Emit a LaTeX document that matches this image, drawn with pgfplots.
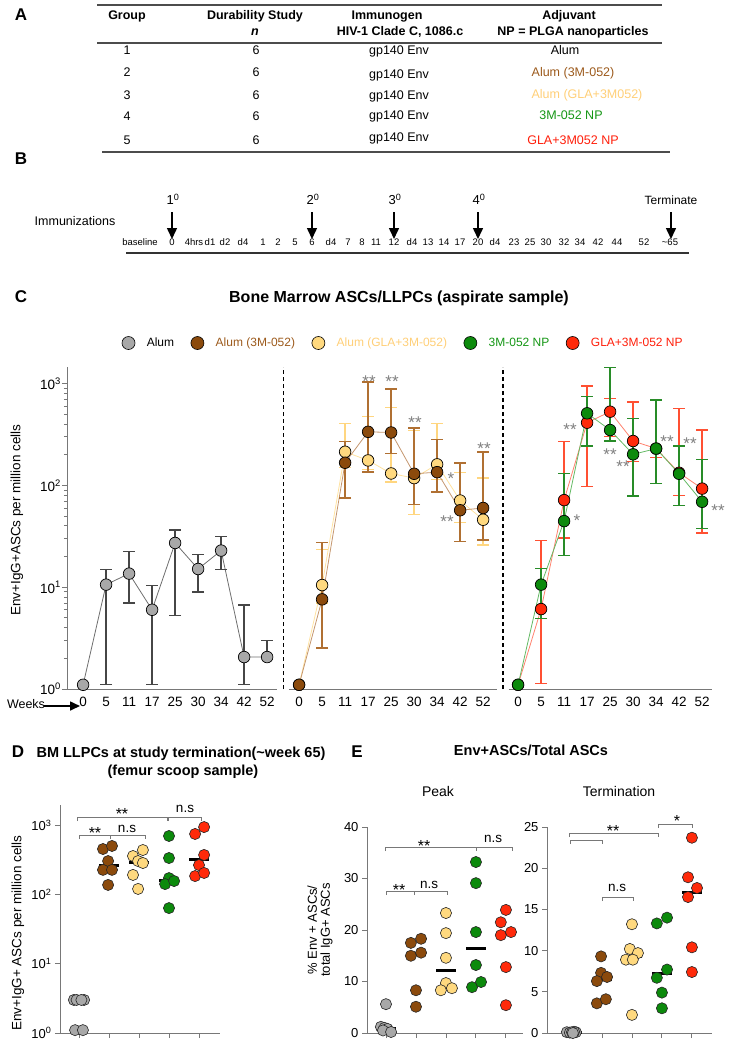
\documentclass[border=0pt]{standalone}
\usepackage{fontspec}
\setmainfont{Liberation Sans}
\usepackage{pgfplots}
\usepackage{pgfplotstable}
\pgfplotsset{compat=1.18}
\usetikzlibrary{arrows.meta}

\definecolor{cgray}{RGB}{168,168,168}
\definecolor{cbrown}{RGB}{139,74,12}
\definecolor{cyellow}{RGB}{255,217,127}
\definecolor{cgreen}{RGB}{12,138,12}
\definecolor{cred}{RGB}{255,42,10}
\definecolor{tbrown}{RGB}{156,90,28}
\definecolor{tyellow}{RGB}{255,207,120}
\definecolor{tgreen}{RGB}{20,150,20}
\definecolor{tred}{RGB}{255,30,10}
\definecolor{axgray}{RGB}{120,120,120}
\definecolor{ebrown}{RGB}{176,112,50}
\definecolor{eyellow}{RGB}{255,214,128}
\definecolor{egreen}{RGB}{40,140,40}
\definecolor{ered}{RGB}{255,80,50}
\definecolor{egray}{RGB}{70,70,70}
\definecolor{lbrown}{RGB}{196,150,110}
\definecolor{lyellow}{RGB}{255,226,160}
\definecolor{lgreen}{RGB}{100,185,100}
\definecolor{lred}{RGB}{255,130,110}
\definecolor{lgray}{RGB}{110,110,110}
\definecolor{stargray}{RGB}{128,128,128}

\newcommand\fsz[1]{\fontsize{#1}{#1}\selectfont}

% ---------- Panel C data (x = category position, y = mean, lo/hi = error bar ends)
\pgfplotstableread{
x y lo hi
0 1.1 1.1 1.1
1 10.6 1.1 14.9
2 13.6 7.0 22.3
3 6.0 1.1 10.4
4 27.2 5.3 36.5
5 15.1 9.0 21.1
6 22.9 14.9 31.7
7 2.06 1.1 6.7
8 2.06 2.06 3.0
}\alumC
\pgfplotstableread{
x y lo hi
9.39 1.1 1.1 1.1
10.39 7.6 2.53 27.3
11.39 167 75 272
12.39 336 135 1040
13.39 331 206 887
14.39 130 65 367
15.39 135 86 282
16.39 57 28 166
17.39 60 29 213
}\brownC
\pgfplotstableread{
x y lo hi
9.39 1.1 1.1 1.1
10.39 10.5 7.0 23.4
11.39 214 150 403
12.39 176 144 472
13.39 131 108 586
14.39 118 52 347
15.39 161 114 405
16.39 71 43 133
17.39 46 26 118
}\yellowC
\pgfplotstableread{
x y lo hi
18.91 1.1 1.1 1.1
19.91 10.6 4.9 15.2
20.91 44.6 20.6 130
21.91 511 244 745
22.91 350 273 1450
23.91 202 78.5 453
24.91 230 104 690
25.91 130 63 244
26.91 69 38 180
}\greenC
\pgfplotstableread{
x y lo hi
18.91 1.1 1.1 1.1
19.91 6.1 1.13 28.8
20.91 71.7 30.5 269
21.91 413 98 948
22.91 530 300 713
23.91 273 171 661
24.91 230 187 690
25.91 133 80 568
26.91 93 34 350
}\redC

\pgfplotsset{
  dot/.style={only marks, mark=*, mark size=5.6pt, mark options={fill=#1, draw=black!85, line width=0.6pt}, forget plot},
  med/.style={black, line width=3pt, forget plot},
  scat/.style={anchor=south west, scale only axis, axis x line*=bottom, axis y line*=left,
    axis line style={axgray, line width=0.9pt}, tick style={axgray, line width=0.9pt},
    tick align=outside, major tick length=5pt, minor tick length=3pt,
    xtick={0,1,2,3,4}, xticklabels={}, clip=false,
    tick label style={font=\fsz{13}}, /pgf/number format/assume math mode=true},
  cser/.style n args={4}{forget plot, color=#2, line width=0.8pt, mark=*, mark size=5.8pt,
    mark options={fill=#1, draw=black, line width=0.7pt, solid},
    error bars/.cd, y dir=both, y explicit, error mark=|,
    error bar style={#3, line width=1.3pt},
    error mark options={#3, line width=1.3pt, mark size=#4}},
}

\begin{document}
\begin{tikzpicture}

% ================= Panel A and B (annotations) =================
\begin{scope}[x=1pt,y=-1pt]
\node[font=\fsz{17}\bfseries, anchor=mid] at (21,18) {A};
\draw[line width=1.1pt, black!70] (97,5) -- (662,5);
\draw[line width=1.1pt, black!70] (97,43) -- (662,43);
\draw[line width=1.1pt, black!70] (102,152) -- (670,152);
\begin{scope}[every node/.style={anchor=mid, font=\fsz{12.5}\bfseries}]
\node at (127,17) {Group};
\node at (255,17) {Durability Study};
\node at (255,33) {\itshape n};
\node at (387,17) {Immunogen};
\node at (400,33) {HIV-1 Clade C, 1086.c};
\node at (569,17) {Adjuvant};
\node at (573,33) {NP = PLGA nanoparticles};
\end{scope}
\begin{scope}[every node/.style={anchor=mid, font=\fsz{12.5}}]
\node at (127,52) {1}; \node at (127,74) {2}; \node at (127,97) {3}; \node at (127,118) {4}; \node at (127,142) {5};
\node at (256,52) {6}; \node at (256,74) {6}; \node at (256,97) {6}; \node at (256,118) {6}; \node at (256,142) {6};
\node at (399,52) {gp140 Env}; \node at (399,76) {gp140 Env}; \node at (399,97) {gp140 Env}; \node at (399,117) {gp140 Env}; \node at (399,139) {gp140 Env};
\node at (565,52) {Alum};
\node[text=tbrown] at (573,74) {Alum (3M-052)};
\node[text=tyellow] at (587,96) {Alum (GLA+3M052)};
\node[text=tgreen] at (571,117) {3M-052 NP};
\node[text=tred] at (573,142) {GLA+3M052 NP};
\end{scope}

% Panel B
\node[font=\fsz{17}\bfseries, anchor=mid] at (21,162) {B};
\node[font=\fsz{12.5}, anchor=mid] at (75,223) {Immunizations};
\foreach \xx/\lab in {172/1, 312/2, 394/3, 478/4}{
  \node[font=\fsz{13}, anchor=mid] at (\xx+1,202) {\lab\textsuperscript{0}};
  \draw[line width=1.5pt, -{Triangle[length=11pt,width=10pt]}] (\xx,212) -- (\xx,239);
}
\node[font=\fsz{12}, anchor=mid] at (671,202) {Terminate};
\draw[line width=1.5pt, -{Triangle[length=11pt,width=10pt]}] (671,212) -- (671,239);
\foreach \xx/\lab in {140/baseline,172/0,194/4hrs,210/d1,225/d2,243/d4,263/1,278/2,295/5,312/6,331/d4,348/7,362/8,376/11,394/12,412/d4,428/13,444/14,460/17,478/20,495/d4,514/23,530/25,546/30,564/32,580/34,598/42,617/44,644/52,670/\textasciitilde 65}{
  \node[font=\fsz{9.5}, anchor=mid, inner sep=0pt] at (\xx,243) {\lab};
}
\draw[line width=1.2pt, black!80] (126,253) -- (689,253);

% Panel C headings
\node[font=\fsz{17}\bfseries, anchor=mid] at (21,300) {C};
\node[font=\fsz{16}\bfseries, anchor=mid] at (399,300) {Bone Marrow ASCs/LLPCs (aspirate sample)};
\node[font=\fsz{13.5}, rotate=90, anchor=center] at (17,520) {Env+IgG+ASCs per million cells};
\node[font=\fsz{12.5}, anchor=mid, inner sep=1pt] at (26,706) {Weeks};
\draw[line width=1.6pt, -{Triangle[length=10pt,width=9pt]}] (44,706) -- (80,706);

% stars panel C
\begin{scope}[every node/.style={font=\fsz{17}, text=stargray, anchor=base, inner sep=0pt, text depth=0pt}]
\node at (369,387) {**}; \node at (392,387) {**}; \node at (415,428) {**};
\node at (451,484) {*}; \node at (447,527) {**}; \node at (484,454) {**};
\node at (570,435) {**}; \node at (577,526) {*}; \node at (610,460) {**};
\node at (623,472) {**}; \node at (667,447) {**}; \node at (690,449) {**};
\node at (718,516) {**};
\end{scope}

% Panel D headings
\node[font=\fsz{17}\bfseries, anchor=mid] at (18,755) {D};
\node[font=\fsz{14.5}\bfseries, anchor=mid] at (181,755) {BM LLPCs at study termination(\textasciitilde week 65)};
\node[font=\fsz{14.5}\bfseries, anchor=mid] at (183,773) {(femur scoop sample)};
\node[font=\fsz{13.5}, rotate=90, anchor=center] at (18,933) {Env+IgG+ ASCs per million cells};
\begin{scope}[axgray, line width=0.9pt]
\draw (79,839) -- (79,835) -- (110,835) -- (110,839);
\draw (110,839) -- (110,835) -- (145,835) -- (145,839);
\draw (77,821) -- (77,817) -- (167,817) -- (167,821);
\draw (168,821) -- (168,817) -- (201,817) -- (201,821);
\end{scope}
\begin{scope}[every node/.style={font=\fsz{16}, anchor=base, inner sep=0pt, text depth=0pt}]
\node at (95,838) {**}; \node at (122,819) {**};
\end{scope}
\begin{scope}[every node/.style={font=\fsz{13.5}, anchor=mid, inner sep=0pt}]
\node at (127,830) {n.s}; \node at (185,810) {n.s};
\end{scope}

% Panel E headings
\node[font=\fsz{17}\bfseries, anchor=mid] at (357,755) {E};
\node[font=\fsz{14.5}\bfseries, anchor=mid] at (531,753) {Env+ASCs/Total ASCs};
\node[font=\fsz{14}, anchor=mid] at (438,794) {Peak};
\node[font=\fsz{14}, anchor=mid] at (619,794) {Termination};
\node[font=\fsz{13}, rotate=90, anchor=center, align=center] at (320,930) {\% Env + ASCs/\\total IgG+ ASCs};
\begin{scope}[axgray, line width=0.9pt]
\draw (386,895) -- (386,891) -- (414,891) -- (414,895);
\draw (414,895) -- (414,891) -- (447,891) -- (447,895);
\draw (385,851) -- (385,847) -- (476,847) -- (476,851);
\draw (476,851) -- (476,847) -- (512,847) -- (512,851);
\draw (570,844) -- (570,840) -- (602,840) -- (602,844);
\draw (569,837) -- (569,833) -- (658,833) -- (658,837);
\draw (658,828) -- (658,824) -- (692,824) -- (692,828);
\draw (602,901) -- (602,897) -- (633,897) -- (633,901);
\end{scope}
\begin{scope}[every node/.style={font=\fsz{16}, anchor=base, inner sep=0pt, text depth=0pt}]
\node at (399,895) {**}; \node at (424,851) {**};
\node at (613,836) {**}; \node at (677,826) {*};
\end{scope}
\begin{scope}[every node/.style={font=\fsz{13.5}, anchor=mid, inner sep=0pt}]
\node at (429,886) {n.s}; \node at (493,840) {n.s}; \node at (617,889) {n.s};
\end{scope}
\end{scope}

% ================= Panel C axis =================
\begin{axis}[
  at={(67pt,-689pt)}, anchor=south west, scale only axis,
  width=645pt, height=322pt,
  ymode=log, ymin=1, ymax=1456, xmin=-0.7, xmax=27.34,
  axis x line*=bottom, axis y line*=left,
  x axis line style={draw=none},
  y axis line style={axgray, line width=0.9pt},
  ytick={1,10,100,1000},
  yticklabels={10\textsuperscript{0},10\textsuperscript{1},10\textsuperscript{2},10\textsuperscript{3}},
  minor ytick={2,3,4,5,6,7,8,9,20,30,40,50,60,70,80,90,200,300,400,500,600,700,800,900},
  tick align=outside, major tick length=5pt, minor tick length=3pt,
  ytick style={axgray, line width=0.9pt},
  xtick={0,1,2,3,4,5,6,7,8,9.39,10.39,11.39,12.39,13.39,14.39,15.39,16.39,17.39,18.91,19.91,20.91,21.91,22.91,23.91,24.91,25.91,26.91},
  xticklabels={0,5,11,17,25,30,34,42,52,0,5,11,17,25,30,34,42,52,0,5,11,17,25,30,34,42,52},
  xtick style={draw=none},
  tick label style={font=\fsz{13.5}},
  yticklabel style={inner sep=1pt},
  clip=false,
  legend columns=5, legend cell align=left,
  legend style={at={(axis description cs:0.0845,1.0745)}, anchor=west, draw=none, fill=none,
    inner sep=0pt, font=\fsz{12},
    /tikz/every odd column/.append style={column sep=9.5pt},
    /tikz/every even column/.append style={column sep=14.5pt}},
]
\addlegendimage{legend image code/.code={\draw[black, line width=0.6pt, fill=cgray] (0pt,0pt) circle (6.5pt);}}
\addlegendentry{Alum}
\addlegendimage{legend image code/.code={\draw[black, line width=0.6pt, fill=cbrown] (0pt,0pt) circle (6.5pt);}}
\addlegendentry{\textcolor{tbrown}{Alum (3M-052)}}
\addlegendimage{legend image code/.code={\draw[black, line width=0.6pt, fill=cyellow] (0pt,0pt) circle (6.5pt);}}
\addlegendentry{\textcolor{tyellow}{Alum (GLA+3M-052)}}
\addlegendimage{legend image code/.code={\draw[black, line width=0.6pt, fill=cgreen] (0pt,0pt) circle (6.5pt);}}
\addlegendentry{\textcolor{tgreen}{3M-052 NP}}
\addlegendimage{legend image code/.code={\draw[black, line width=0.6pt, fill=cred] (0pt,0pt) circle (6.5pt);}}
\addlegendentry{\textcolor{tred}{GLA+3M-052 NP}}

\draw[axgray, line width=0.9pt] (axis cs:-0.7,1) -- (axis cs:8.45,1);
\draw[axgray, line width=0.9pt] (axis cs:8.95,1) -- (axis cs:18.0,1);
\draw[axgray, line width=0.9pt] (axis cs:18.5,1) -- (axis cs:27.34,1);
\draw[black, line width=1.4pt, dash pattern=on 4pt off 3pt] (axis cs:8.70,1) -- (axis cs:8.70,1456);
\draw[black, line width=1.4pt, dash pattern=on 4pt off 3pt] (axis cs:18.26,1) -- (axis cs:18.26,1456);

\addplot[cser={cgray}{lgray}{egray}{6pt}] table[x=x, y=y, y error plus expr=\thisrow{hi}-\thisrow{y}, y error minus expr=\thisrow{y}-\thisrow{lo}] {\alumC};
\addplot[cser={cyellow}{lyellow}{eyellow}{6pt}] table[x=x, y=y, y error plus expr=\thisrow{hi}-\thisrow{y}, y error minus expr=\thisrow{y}-\thisrow{lo}] {\yellowC};
\addplot[cser={cbrown}{lbrown}{ebrown}{6pt}] table[x=x, y=y, y error plus expr=\thisrow{hi}-\thisrow{y}, y error minus expr=\thisrow{y}-\thisrow{lo}] {\brownC};
\addplot[cser={cred}{lred}{ered}{6pt}] table[x=x, y=y, y error plus expr=\thisrow{hi}-\thisrow{y}, y error minus expr=\thisrow{y}-\thisrow{lo}] {\redC};
\addplot[cser={cgreen}{lgreen}{egreen}{6pt}] table[x=x, y=y, y error plus expr=\thisrow{hi}-\thisrow{y}, y error minus expr=\thisrow{y}-\thisrow{lo}] {\greenC};
\end{axis}

% ================= Panel D axis =================
\begin{axis}[scat, at={(60pt,-1033pt)}, width=160pt, height=228pt,
  ymode=log, ymin=1, ymax=1950, xmin=-0.633, xmax=4.7,
  ytick={1,10,100,1000},
  yticklabels={10\textsuperscript{0},10\textsuperscript{1},10\textsuperscript{2},10\textsuperscript{3}},
  minor ytick={2,3,4,5,6,7,8,9,20,30,40,50,60,70,80,90,200,300,400,500,600,700,800,900},
  minor tick style={draw=none},
]
\addplot[dot=cgray] coordinates {(-0.17,3.0) (0.17,3.0) (-0.08,3.0) (0.08,3.0) (-0.13,1.1) (0.13,1.1)};
\addplot[med] coordinates {(-0.33,3.0) (0.33,3.0)};
\addplot[dot=cbrown] coordinates {(0.8,452) (1.1,500) (0.97,303) (0.8,226) (1.1,226) (0.97,137)};
\addplot[med] coordinates {(0.67,265) (1.33,265)};
\addplot[dot=cyellow] coordinates {(1.8,358) (2.13,437) (1.97,303) (2.13,284) (1.8,191) (1.97,120)};
\addplot[med] coordinates {(1.67,290) (2.33,290)};
\addplot[dot=cgreen] coordinates {(3,697) (3,335) (3,172) (2.87,141) (3.17,156) (3,63.5)};
\addplot[med] coordinates {(2.67,160) (3.33,160)};
\addplot[dot=cred] coordinates {(3.87,745) (4.17,937) (4.17,371) (4,265) (3.87,184) (4.17,204)};
\addplot[med] coordinates {(3.67,315) (4.33,315)};
\end{axis}

% ================= Panel E: Peak =================
\begin{axis}[scat, at={(367pt,-1033pt)}, width=156pt, height=206pt,
  ymin=0, ymax=40, xmin=-0.633, xmax=4.57, ytick={0,10,20,30,40}]
\addplot[dot=cgray] coordinates {(0,5.6) (-0.17,1.2) (-0.05,1.0) (0.05,0.8) (-0.1,0.5) (0.17,0.2)};
\addplot[med] coordinates {(-0.33,0.9) (0.33,0.9)};
\addplot[dot=cbrown] coordinates {(0.83,17.5) (1.17,18.3) (0.83,15.0) (1.17,15.6) (1,8.3) (1,5.1)};
\addplot[med] coordinates {(0.67,15.3) (1.33,15.3)};
\addplot[dot=cyellow] coordinates {(2,23.3) (2,19.4) (2,14.6) (2,9.7) (1.83,8.3) (2.2,8.7)};
\addplot[med] coordinates {(1.67,12.15) (2.33,12.15)};
\addplot[dot=cgreen] coordinates {(3,33.2) (3,29.1) (3,19.6) (3,13.2) (2.87,8.9) (3.17,9.9)};
\addplot[med] coordinates {(2.67,16.4) (3.33,16.4)};
\addplot[dot=cred] coordinates {(4,23.9) (3.83,21.5) (3.83,19.0) (4.17,19.6) (4,12.8) (4,5.4)};
\addplot[med] coordinates {(3.67,19.3) (4.33,19.3)};
\end{axis}

% ================= Panel E: Termination =================
\begin{axis}[scat, at={(547pt,-1033pt)}, width=165pt, height=206pt,
  ymin=0, ymax=25, xmin=-0.833, xmax=4.67, ytick={0,5,10,15,20,25}]
\addplot[dot=cgray] coordinates {(-0.17,0.1) (0.13,0.1) (-0.07,0.05) (0.07,0.15) (0,0.1) (0.03,0.0)};
\addplot[med] coordinates {(-0.33,0.1) (0.33,0.1)};
\addplot[dot=cbrown] coordinates {(0.97,9.3) (0.97,7.3) (1.17,6.8) (0.83,6.3) (0.83,3.6) (1.13,4.1)};
\addplot[med] coordinates {(0.67,6.55) (1.33,6.55)};
\addplot[dot=cyellow] coordinates {(2,13.2) (1.93,10.2) (2.2,9.7) (1.8,8.9) (2.03,8.9) (2,2.2)};
\addplot[med] coordinates {(1.67,9.3) (2.33,9.3)};
\addplot[dot=cgreen] coordinates {(2.83,13.3) (3.17,14.0) (3.17,7.7) (2.83,6.7) (3,4.9) (3,3.0)};
\addplot[med] coordinates {(2.67,7.2) (3.33,7.2)};
\addplot[dot=cred] coordinates {(4,23.7) (3.87,18.9) (4.17,17.6) (3.87,16.5) (4,10.4) (4,7.4)};
\addplot[med] coordinates {(3.67,17.0) (4.33,17.0)};
\end{axis}

\pgfresetboundingbox
\path[use as bounding box] (0pt,0pt) rectangle (731pt,-1050pt);
\end{tikzpicture}
\end{document}
